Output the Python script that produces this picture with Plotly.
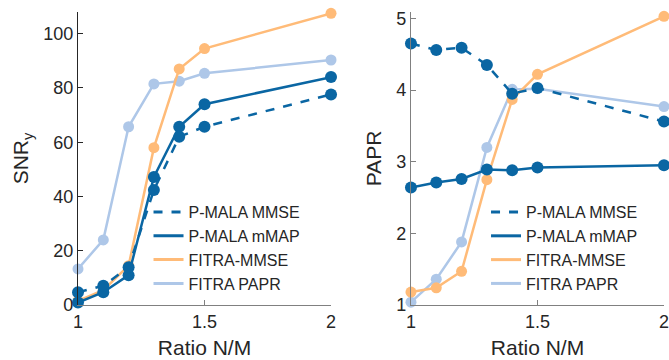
import plotly.graph_objects as go

ratio = [1.0, 1.1, 1.2, 1.3, 1.4, 1.5, 2.0]

snr_pmala_mmse = [4.7, 7.1, 13.9, 42.4, 62.0, 65.7, 77.6]
snr_pmala_mmap = [0.9, 4.7, 11.0, 47.2, 65.7, 74.0, 84.0]
snr_fitra_mmse = [1.5, 5.5, 14.5, 58.0, 87.0, 94.5, 107.5]
snr_fitra_papr = [13.3, 24.0, 65.7, 81.5, 82.5, 85.4, 90.3]

papr_pmala_mmse = [4.65, 4.56, 4.59, 4.35, 3.95, 4.03, 3.56]
papr_pmala_mmap = [2.64, 2.71, 2.76, 2.89, 2.88, 2.92, 2.95]
papr_fitra_mmse = [1.18, 1.24, 1.47, 2.75, 3.87, 4.22, 5.03]
papr_fitra_papr = [1.04, 1.36, 1.88, 3.20, 4.01, 4.02, 3.77]

names = ["P-MALA MMSE", "P-MALA mMAP", "FITRA-MMSE", "FITRA PAPR"]
DARK = "#0a66a3"
ORANGE = "#ffbb78"
LIGHT = "#aec7e8"
colors = [DARK, DARK, ORANGE, LIGHT]
dashes = ["dash", "solid", "solid", "solid"]
msizes = [12, 12, 11, 11]

snr_series = [snr_pmala_mmse, snr_pmala_mmap, snr_fitra_mmse, snr_fitra_papr]
papr_series = [papr_pmala_mmse, papr_pmala_mmap, papr_fitra_mmse, papr_fitra_papr]

FONT = "Liberation Sans, Arial, sans-serif"
TXT = "#262626"

fig = go.Figure()

order = [3, 2, 1, 0]
for panel, series, xa, ya, lg in [(1, snr_series, "x", "y", "legend"),
                                  (2, papr_series, "x2", "y2", "legend2")]:
    for i in order:
        fig.add_trace(go.Scatter(
            x=ratio, y=series[i], mode="lines+markers",
            line=dict(color=colors[i], width=2.5, dash=dashes[i]),
            marker=dict(color=colors[i], size=msizes[i]),
            xaxis=xa, yaxis=ya, showlegend=False, cliponaxis=False))
    for i in range(4):
        fig.add_trace(go.Scatter(
            x=[None], y=[None], mode="lines", name=names[i],
            line=dict(color=colors[i], width=3, dash=dashes[i]),
            xaxis=xa, yaxis=ya, showlegend=True, legend=lg))

axis_common = dict(
    showgrid=False, zeroline=False, showline=True, linewidth=1.3,
    ticks="inside", ticklen=5, tickwidth=1, automargin=False,
    tickfont=dict(family=FONT, size=18, color=TXT),
)

fig.update_layout(
    width=669, height=360,
    margin=dict(l=0, r=0, t=0, b=0, autoexpand=False),
    paper_bgcolor="white", plot_bgcolor="white",
    font=dict(family=FONT, color=TXT),
    xaxis=dict(domain=[0.1166, 0.4948], range=[1, 2], tickvals=[1, 1.5, 2],
               ticktext=["1", "1.5", "2"], linecolor="#808080", tickcolor="#808080",
               title=dict(text="Ratio N/M", font=dict(family=FONT, size=21, color=TXT), standoff=9),
               anchor="y", **axis_common),
    yaxis=dict(domain=[0.1528, 0.9667], range=[0, 108], tickvals=[0, 20, 40, 60, 80, 100],
               linecolor="#262626", tickcolor="#262626",
               title=dict(text="SNR<sub>y</sub>", font=dict(family=FONT, size=21, color=TXT), standoff=8),
               anchor="x", **axis_common),
    xaxis2=dict(domain=[0.6143, 0.9925], range=[1, 2], tickvals=[1, 1.5, 2],
                ticktext=["1", "1.5", "2"], linecolor="#808080", tickcolor="#808080",
                title=dict(text="Ratio N/M", font=dict(family=FONT, size=21, color=TXT), standoff=9),
                anchor="y2", **axis_common),
    yaxis2=dict(domain=[0.1528, 0.9667], range=[1, 5.09], tickvals=[1, 2, 3, 4, 5],
                linecolor="#808080", tickcolor="#808080",
                title=dict(text="PAPR", font=dict(family=FONT, size=21, color=TXT), standoff=8),
                anchor="x2", **axis_common),
    legend=dict(x=0.222, y=0.458, xanchor="left", yanchor="top",
                bgcolor="rgba(0,0,0,0)", font=dict(family=FONT, size=16, color=TXT),
                tracegroupgap=0, itemwidth=30),
    legend2=dict(x=0.7265, y=0.458, xanchor="left", yanchor="top",
                 bgcolor="rgba(0,0,0,0)", font=dict(family=FONT, size=16, color=TXT),
                 tracegroupgap=0, itemwidth=30),
)

fig.write_html("out.html", config={"displayModeBar": False},
               post_script="document.body.style.margin='0';document.body.style.overflow='hidden';")
